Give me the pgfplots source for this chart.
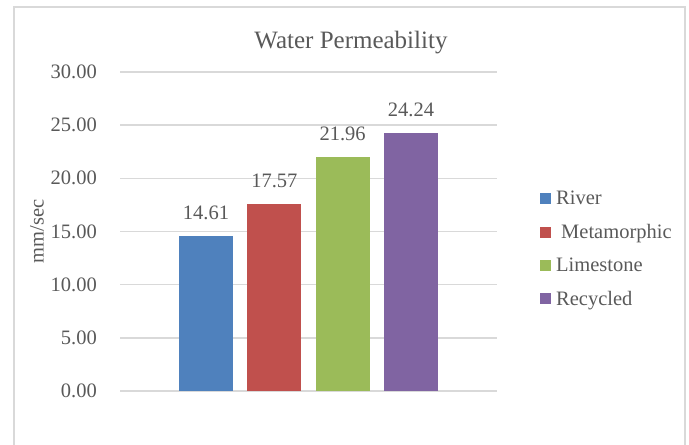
\documentclass[border=0pt]{standalone}
\usepackage{fontspec}
\setmainfont{Liberation Serif}
\usepackage{pgfplots}
\pgfplotsset{compat=1.18}
\definecolor{txt}{HTML}{595959}
\definecolor{gridc}{HTML}{D9D9D9}
\definecolor{cblue}{HTML}{4F81BD}
\definecolor{cred}{HTML}{C0504D}
\definecolor{cgreen}{HTML}{9BBB59}
\definecolor{cpurple}{HTML}{8064A2}
\newcommand{\lbl}{\fontsize{20.5bp}{24bp}\selectfont}
\begin{document}
\begin{tikzpicture}[x=1bp,y=1bp]
\useasboundingbox (0,0) rectangle (689,445);
\draw[gridc, line width=2bp] (14,-20) rectangle (685,438);
\begin{axis}[
  at={(120bp,54bp)}, anchor=south west,
  scale only axis, width=377bp, height=319bp,
  xmin=-1.26, xmax=4.26, ymin=0, ymax=30,
  ytick={0,5,10,15,20,25,30},
  xtick=\empty,
  /pgf/number format/assume math mode=true,
  yticklabel={\pgfmathprintnumber[fixed,fixed zerofill,precision=2]{\tick}},
  yticklabel style={font=\lbl, text=txt, anchor=east, inner sep=0pt, xshift=-23bp},
  major tick length=0pt,
  axis line style={draw=none},
  ymajorgrids, grid style={gridc, line width=1.5bp},
  ylabel={mm/sec},
  every axis y label/.style={at={(axis description cs:-0.22,0.5)}, rotate=90, anchor=center, font=\lbl, text=txt},
  title={Water Permeability},
  title style={at={(axis description cs:0.6127,1)}, anchor=base, yshift=18bp, font=\fontsize{25bp}{30bp}\selectfont, text=txt},
  nodes near coords,
  nodes near coords style={font=\lbl, text=txt, anchor=south, inner sep=0pt, yshift=16bp,
    /pgf/number format/.cd, fixed, fixed zerofill, precision=2},
  legend style={at={(axis description cs:1.114,0.445)}, anchor=west, draw=none, fill=none,
    font=\lbl, text=txt, inner sep=0pt, row sep=18bp, legend cell align=left,
    nodes={inner sep=0pt},
    /tikz/every odd column/.style={column sep=5bp}},
  legend image code/.code={\fill[#1] (0bp,-5.5bp) rectangle (11bp,5.5bp);},
]
\addplot[ybar, bar width=54bp, bar shift=0pt, fill=cblue, draw=none] coordinates {(0,14.61)};
\addlegendentry{River}
\addplot[ybar, bar width=54bp, bar shift=0pt, fill=cred, draw=none] coordinates {(1,17.57)};
\addlegendentry{\hspace{5bp}Metamorphic}
\addplot[ybar, bar width=54bp, bar shift=0pt, fill=cgreen, draw=none] coordinates {(2,21.96)};
\addlegendentry{Limestone}
\addplot[ybar, bar width=54bp, bar shift=0pt, fill=cpurple, draw=none] coordinates {(3,24.24)};
\addlegendentry{Recycled}
\end{axis}
\end{tikzpicture}
\end{document}
